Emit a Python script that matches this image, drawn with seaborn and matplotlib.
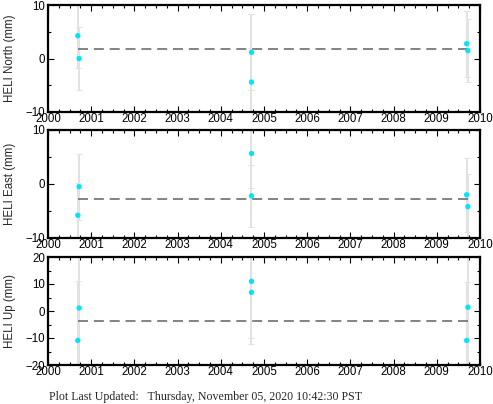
import numpy as np
import pandas as pd
import matplotlib
matplotlib.use("Agg")
import matplotlib.pyplot as plt
import seaborn as sns
from matplotlib.ticker import MultipleLocator

# ---- data ----
dates = [2000.69, 2000.72, 2004.71, 2004.71, 2009.69, 2009.72]
north = [4.26, 0.0, 1.16, -4.4, 2.77, 1.46]
north_err = [6.0, 5.8, 7.1, 6.3, 6.2, 5.9]
east = [-5.8, -0.5, 5.65, -2.2, -2.0, -4.2]
east_err = [6.0, 6.1, 6.3, 5.7, 6.9, 6.1]
up = [-10.9, 1.1, 11.0, 6.9, -10.9, 1.4]
up_err = [22.0, 22.0, 21.0, 19.2, 21.8, 22.0]
fit_north = 1.78
fit_east = -2.74
fit_up = -3.6
year_ticks = list(range(2000, 2011))
footer = "Plot Last Updated:   Thursday, November 05, 2020 10:42:30 PST"

panels = [
    ("HELI North (mm)", north, north_err, fit_north, (-10, 10), 10),
    ("HELI East (mm)", east, east_err, fit_east, (-10, 10), 10),
    ("HELI Up (mm)", up, up_err, fit_up, (-20, 20), 10),
]

sns.set_theme(style="white")
plt.rcParams["font.family"] = ["Liberation Sans", "DejaVu Sans"]
plt.rcParams["font.size"] = 8

fig = plt.figure(figsize=(4.93, 4.04), dpi=100)
W, H = 493.0, 404.0
boxes = [(5, 112), (130, 238), (257, 365)]

for (label, vals, errs, fit, ylim, major), (top, bot) in zip(panels, boxes):
    ax = fig.add_axes([48 / W, 1 - bot / H, 432 / W, (bot - top) / H])
    df = pd.DataFrame({"date": dates, "val": vals, "err": errs})
    ax.errorbar(df["date"], df["val"], yerr=df["err"], fmt="none",
                ecolor="#e2e2e2", elinewidth=1.4, capsize=2.5, capthick=0.7,
                zorder=1)
    ax.plot([min(dates), max(dates)], [fit, fit], color="#6e6e6e",
            linestyle=(0, (6, 3.5)), linewidth=1.2, zorder=2)
    sns.scatterplot(data=df, x="date", y="val", ax=ax, color="#00e5ff",
                    s=15, edgecolor="none", zorder=3)
    ax.set_xlim(2000, 2010)
    ax.set_ylim(*ylim)
    ax.set_xticks(year_ticks)
    ax.set_xticklabels([str(y) for y in year_ticks])
    ax.xaxis.set_minor_locator(MultipleLocator(0.25))
    ax.yaxis.set_major_locator(MultipleLocator(major))
    ax.yaxis.set_minor_locator(MultipleLocator(5))
    ax.tick_params(which="both", direction="in", top=True, right=True,
                   bottom=True, left=True, colors="black", labelsize=8.3,
                   pad=2)
    ax.tick_params(which="major", length=4.5, width=0.8)
    ax.tick_params(which="minor", length=2.5, width=0.8)
    ax.tick_params(axis="x", pad=1)
    for s in ax.spines.values():
        s.set_linewidth(1.6)
        s.set_color("black")
    ax.set_xlabel("")
    ax.set_ylabel(label, fontsize=8.3, labelpad=7)
    ax.grid(False)

fig.text(49 / W, 1 - 397 / H, footer, family=["Liberation Serif", "DejaVu Serif"],
         fontsize=8.6, va="center", ha="left")

fig.savefig("out.png", dpi=100)
